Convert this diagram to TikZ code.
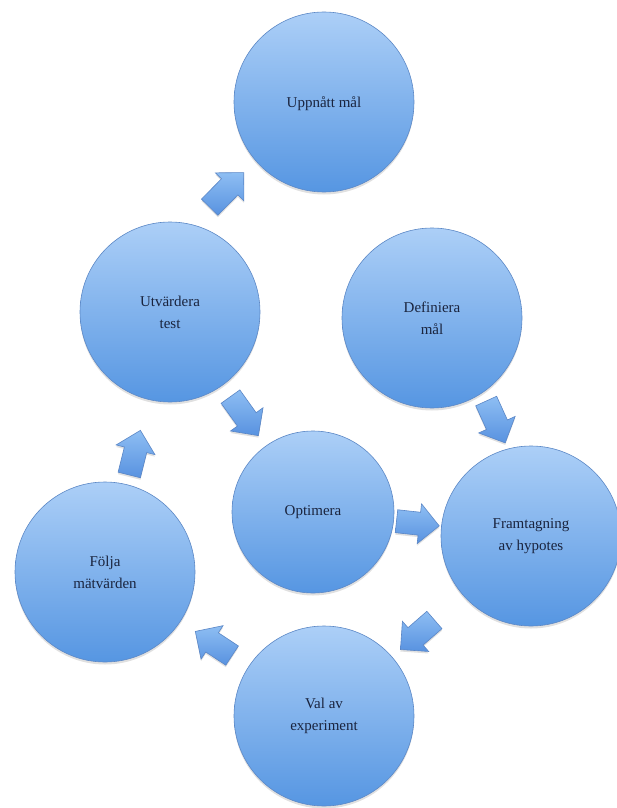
\documentclass[tikz,border=0pt]{standalone}
\usepackage{fontspec}
\setmainfont{Liberation Serif}
\usetikzlibrary{calc,shadows}

\definecolor{bubtop}{RGB}{172,207,247}
\definecolor{bubbot}{RGB}{86,150,226}
\definecolor{bubedge}{RGB}{92,136,198}
\definecolor{arrtop}{RGB}{142,190,243}
\definecolor{arrbot}{RGB}{88,146,224}
\definecolor{arredge}{RGB}{90,134,198}
\definecolor{labelnavy}{RGB}{26,36,62}

\tikzset{
  bubble/.style={circle, minimum size=180pt, inner sep=0pt,
    top color=bubtop, bottom color=bubbot, draw=bubedge, line width=0.6pt,
    drop shadow={shadow xshift=0pt, shadow yshift=-2.5pt, opacity=0.12, fill=black},
    text=labelnavy, font=\fontsize{15}{22}\selectfont, align=center},
  smallbubble/.style={bubble, minimum size=162pt},
  arrowbody/.style={top color=arrtop, bottom color=arrbot, draw=arredge,
    line width=0.6pt, line join=miter,
    drop shadow={shadow xshift=0pt, shadow yshift=-2pt, opacity=0.12, fill=black}},
}

% block arrow running from node #1 towards node #2:
% tail at distance #3, tip at distance #4 from the centre of #1,
% shifted sideways (to the left of the run) by #5 at the tail and #6 at the tip
\newcommand\flowarrow[6]{%
  \coordinate (fa-t0) at ($(#1)!#3!(#2)$);
  \coordinate (fa-h0) at ($(#1)!#4!(#2)$);
  \coordinate (fa-t) at ($(fa-t0)!#5!90:(#2)$);
  \coordinate (fa-h) at ($(fa-h0)!#6!90:(#2)$);
  \coordinate (fa-b) at ($(fa-h)!20pt!(fa-t)$);
  \path[arrowbody]
    ($(fa-t)!11.5pt!90:(fa-h)$) -- ($(fa-b)!11.5pt!90:(fa-h)$) --
    ($(fa-b)!20pt!90:(fa-h)$) -- (fa-h) -- ($(fa-b)!20pt!-90:(fa-h)$) --
    ($(fa-b)!11.5pt!-90:(fa-h)$) -- ($(fa-t)!11.5pt!-90:(fa-h)$) -- cycle;
}

\begin{document}
\begin{tikzpicture}[x=1pt, y=-1pt]
  \fill[white] (0,0) rectangle (617,808);
  \useasboundingbox (0,0) rectangle (617,808);

  \node[bubble, text depth=-5pt] (goal) at (324,102) {Uppnått mål};
  \node[bubble] (eval)   at (170,312) {Utvärdera\\test};
  \node[bubble] (define) at (432,318) {Definiera\\mål};
  \node[smallbubble] (opt) at (313,512) {Optimera};
  \node[bubble] (hyp)    at (531,536) {Framtagning\\av hypotes};
  \node[bubble] (track)  at (105,572) {Följa\\mätvärden};
  \node[bubble] (exp)    at (324,716) {Val av\\experiment};

  \flowarrow{eval}{goal}{108pt}{156pt}{30pt}{23pt}
  \flowarrow{eval}{opt}{104pt}{152pt}{0pt}{0pt}
  \flowarrow{define}{hyp}{98pt}{144pt}{15pt}{15pt}
  \flowarrow{opt}{hyp}{84pt}{127pt}{0pt}{0pt}
  \flowarrow{hyp}{exp}{128pt}{173pt}{0pt}{0pt}
  \flowarrow{exp}{track}{110pt}{154pt}{0pt}{0pt}
  \flowarrow{track}{eval}{100pt}{146pt}{0pt}{0pt}
\end{tikzpicture}
\end{document}
